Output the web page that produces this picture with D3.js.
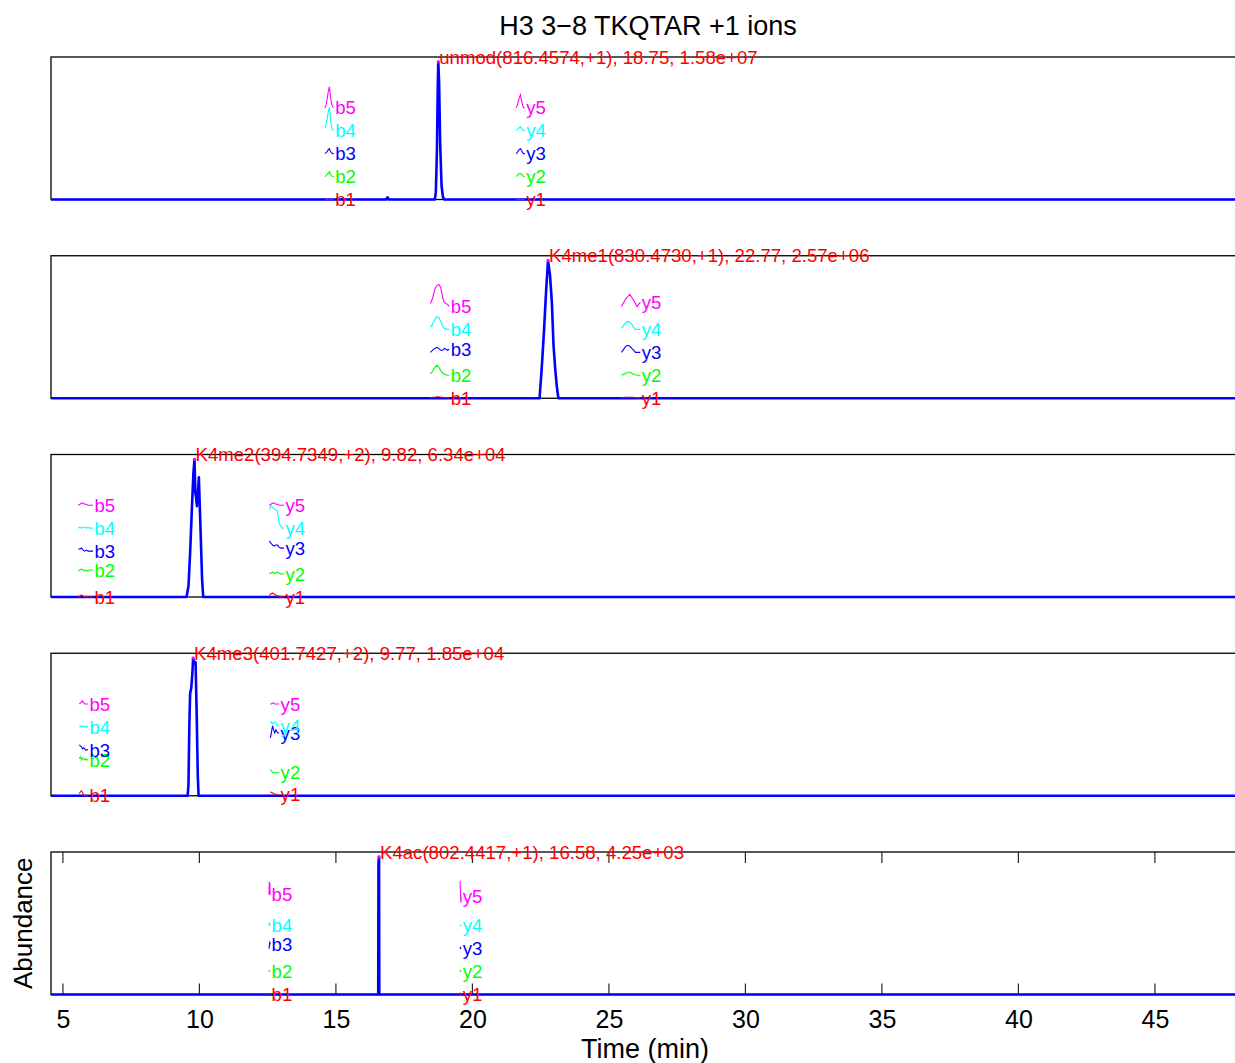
<!DOCTYPE html>
<html>
<head>
<meta charset="utf-8">
<script src="https://cdn.jsdelivr.net/npm/d3@7"></script>
<style>
  html, body { margin: 0; padding: 0; background: #fff; }
  svg { display: block; font-family: "Liberation Sans", Arial, Helvetica, sans-serif; }
</style>
</head>
<body>
<svg id="chart" width="1235" height="1063"></svg>
<script>
// ---- axis limits and ticks (minutes) ----
const timeLimits = [4.564, 48.3];
const timeTicks = [5, 10, 15, 20, 25, 30, 35, 40, 45];

// fragment ion series drawn beside each precursor peak
const ionNames = ["1", "2", "3", "4", "5"];
const ionColors = ["#ff0000", "#00ff00", "#0000ff", "#00ffff", "#ff00ff"];
const ionLevels = [0, 16.667, 33.333, 50, 66.667];   // % of precursor max
const bShift = -4;   // min, b-ion traces sit left of the peak
const yShift = 3;    // min, y-ion traces sit right of the peak

// ---- unmod(816.4574,+1) ----
const unmodRt    = [4.564, 16.84, 16.89, 16.94, 18.62, 18.66, 18.70, 18.73, 18.75, 18.78, 18.82, 18.87, 18.92, 18.96, 48.3];
const unmodAbund = [0, 0, 1.6, 0, 0, 5, 35, 80, 100, 85, 40, 10, 2, 0, 0];
const unmodFragRt = [18.60, 18.64, 18.68, 18.72, 18.76, 18.80, 18.84, 18.88, 18.92];
const unmodB = [
  [0, 0, 0, 0, 0.7, 0, 0, 0, 0],
  [0, 0.7, 1.5, 2.2, 3.6, 1.5, 0.7, 0, 0],
  [0, 0.7, 1.5, 2.9, 3.6, 1.5, 0.7, 0, 0],
  [2.2, 4.4, 8.7, 13.8, 16.7, 9.4, 2.9, 0.7, 0],
  [0, 2.2, 6.5, 11.6, 15.2, 8.7, 2.9, 0.7, 0]
];
const unmodY = [
  [0, 0, 0, 0, 0.4, 0, 0, 0, 0],
  [0, 0.7, 1.5, 2.2, 2.2, 1.5, 0.7, 0, 0],
  [0, 0.7, 2.2, 2.9, 3.6, 2.2, 0.7, 0, 0],
  [0, 0.7, 1.5, 2.2, 2.9, 1.5, 0.7, 0, 0],
  [0, 1.5, 4.4, 7.3, 9.4, 5.1, 1.5, 0, 0]
];

// ---- K4me1(830.4730,+1) ----
const me1Rt    = [4.564, 22.46, 22.54, 22.62, 22.70, 22.77, 22.84, 22.91, 22.97, 23.03, 23.09, 23.15, 48.3];
const me1Abund = [0, 0, 22, 48, 78, 100, 90, 70, 39, 22, 9, 0, 0];
const me1FragRt = [22.46, 22.54, 22.62, 22.70, 22.77, 22.84, 22.91, 22.97, 23.03, 23.09, 23.15];
const me1B = [
  [0.4, 0.7, 0.7, 1.1, 1.1, 0.7, 0.7, 0.4, 0.4, 0.4, 0],
  [1.1, 2.9, 5.8, 7.3, 5.8, 3.6, 1.5, 0.7, 0.4, 0, 0],
  [0, 1.5, 2.9, 3.6, 2.9, 1.5, 1.5, 2.9, 2.2, 1.5, 2.2],
  [1.5, 3.6, 7.3, 9.4, 8.7, 5.8, 2.2, 0.7, 0.4, 0, 0],
  [2.2, 5.8, 12.3, 15.2, 16.0, 13.8, 6.5, 2.9, 2.2, 1.5, 0]
];
const me1Y = [
  [0.4, 0.7, 0.7, 0.7, 0.7, 0.7, 0.7, 0.4, 0.4, 0.4, 0],
  [0, 0.7, 1.5, 2.2, 2.2, 1.5, 0.7, 0.4, 0, 0, 0],
  [0, 2.2, 4.4, 5.1, 4.4, 2.9, 1.5, 0, 0, 0, 0],
  [0.7, 2.9, 5.1, 5.8, 5.1, 3.6, 1.5, 0, 0, 0, 0],
  [0, 2.9, 5.8, 7.3, 8.7, 6.5, 4.4, 2.2, 0, 1.5, 2.9]
];

// ---- K4me2(394.7349,+2) ----
const me2Rt    = [4.564, 9.53, 9.60, 9.66, 9.72, 9.78, 9.82, 9.85, 9.88, 9.91, 9.94, 9.98, 10.04, 10.10, 10.14, 48.3];
const me2Abund = [0, 0, 8, 32, 62, 90, 100, 76, 72, 66, 74, 87, 50, 12, 0, 0];
const me2FragRt = [9.56, 9.62, 9.68, 9.74, 9.80, 9.86, 9.92, 9.98, 10.04, 10.10];
const me2B = [
  [0, 0.7, 1.5, 0.7, 0, 0, 0, 0, 0, 0],
  [2.2, 2.9, 3.6, 2.9, 2.2, 2.9, 2.2, 2.9, 2.9, 2.9],
  [1.5, 1.5, 2.2, 0.7, 0, 0.7, 0, 0, 0, 0],
  [0, 0.7, 0, 0.7, 0.7, 0, 0.7, 0, 0, 0],
  [0, 0.7, 1.5, 1.5, 0.7, 0.7, 0, 0, 0, 0]
];
const me2Y = [
  [1.5, 2.2, 2.9, 2.2, 1.5, 0.7, 0.7, 0, 0, 0],
  [0, 0.7, 1.5, 0.7, 0.7, 1.5, 0.7, 0, 0, 0],
  [7.3, 5.8, 4.4, 3.6, 4.4, 4.4, 2.9, 2.2, 2.2, 2.2],
  [13.8, 16.0, 15.2, 13.8, 13.1, 12.3, 3.6, 1.5, 0, 0],
  [0, 0.7, 1.5, 1.5, 0.7, 0.7, 0, 0, 0, 0]
];

// ---- K4me3(401.7427,+2) ----
const me3Rt    = [4.564, 9.57, 9.60, 9.63, 9.66, 9.70, 9.74, 9.77, 9.81, 9.86, 9.90, 9.94, 9.97, 48.3];
const me3Abund = [0, 0, 8, 50, 74, 78, 88, 100, 96, 97, 60, 15, 0, 0];
const me3FragRt = [9.60, 9.64, 9.68, 9.72, 9.76, 9.80, 9.84, 9.88, 9.92];
const me3B = [
  [1.5, 2.9, 3.6, 2.2, 0.7, 0, 0, 0, 0],
  [10.2, 11.6, 9.4, 10.9, 10.2, 9.4, 10.2, 9.4, 9.4],
  [3.6, 2.9, 2.2, 0.7, 1.5, 0.7, 0, 0, 0],
  [0, 0.7, 0, 0.7, 0, 0.7, 0, 0, 0],
  [0, 0.7, 1.5, 2.2, 0.7, 0, 0, 0, 0]
];
const me3Y = [
  [2.9, 2.2, 2.2, 1.5, 1.5, 0.7, 0.7, 0.7, 0.7],
  [2.2, 1.5, 0, 0, 0, 0, 0, 0, 0],
  [8.7, 13.1, 17.4, 14.5, 12.3, 14.5, 13.1, 12.3, 12.3],
  [2.9, 3.6, 2.2, 2.9, 3.6, 2.9, 1.5, 0.7, 0.7],
  [0, 0, 0.7, 0.7, 0, 0, 0, 0, 0]
];

// ---- K4ac(802.4417,+1) ----
const acRt    = [4.564, 16.55, 16.56, 16.58, 16.59, 48.3];
const acAbund = [0, 0, 96, 100, 0, 0];
const acFragRt = [16.55, 16.56, 16.58, 16.59];
const acB = [
  [0, 0.7, 0.7, 0],
  [0, 0.7, 0, 0],
  [0, 2.2, 5.1, 2.9],
  [0, 2.2, 0.7, 0],
  [5.8, 14.5, 13.8, 5.8]
];
const acY = [
  [0, 0.7, 0, 0],
  [0, 0.7, 0, 0],
  [0, 0.7, 0, 0],
  [0, 0.4, 0, 0],
  [15.9, 8.7, 0, 4.4]
];

// precursor summary per panel
const peptideForms = ["unmod", "K4me1", "K4me2", "K4me3", "K4ac"];
const precursorMz  = ["816.4574", "830.4730", "394.7349", "401.7427", "802.4417"];
const chargeStates = ["+1", "+1", "+2", "+2", "+1"];
const apexRt       = [18.75, 22.77, 9.82, 9.77, 16.58];
const apexAbund    = [1.58e7, 2.57e6, 6.34e4, 1.85e4, 4.25e3];

const mainRt    = [unmodRt, me1Rt, me2Rt, me3Rt, acRt];
const mainAbund = [unmodAbund, me1Abund, me2Abund, me3Abund, acAbund];
const fragRt    = [unmodFragRt, me1FragRt, me2FragRt, me3FragRt, acFragRt];
const fragB     = [unmodB, me1B, me2B, me3B, acB];
const fragY     = [unmodY, me1Y, me2Y, me3Y, acY];

// ---- layout ----
const svg = d3.select("#chart");
const left = 51, axisWidth = 1194;
const firstTop = 57, panelStep = 198.75, panelH = 142.5;
const headroom = 1.035;
const labelSize = 18.6;

const x = d3.scaleLinear().domain(timeLimits).range([left, left + axisWidth]);

function sciLabel(v) {
  const [m, e] = v.toExponential(2).split("e");
  const sign = e[0] === "-" ? "-" : "+";
  const digits = e.replace(/[+-]/, "").padStart(2, "0");
  return `${m}e${sign}${digits}`;
}

svg.append("text")
  .attr("x", left + axisWidth / 2).attr("y", 35)
  .attr("text-anchor", "middle")
  .attr("font-size", 27).attr("fill", "#000")
  .text("H3 3\u22128 TKQTAR +1 ions");

peptideForms.forEach((form, i) => {
  const top = firstTop + i * panelStep;
  const bottom = top + panelH;
  const max = apexAbund[i];
  const y = d3.scaleLinear().domain([0, max * headroom]).range([bottom, top]);
  const g = svg.append("g");
  const pct = v => v / 100 * max;

  // box
  g.append("rect")
    .attr("x", left).attr("y", top)
    .attr("width", axisWidth).attr("height", panelH)
    .attr("fill", "none").attr("stroke", "#000").attr("stroke-width", 1.3);

  const isLast = i === peptideForms.length - 1;
  if (isLast) {
    const tickLen = 11;
    timeTicks.forEach(t => {
      g.append("line").attr("x1", x(t)).attr("x2", x(t))
        .attr("y1", bottom).attr("y2", bottom - tickLen)
        .attr("stroke", "#262626").attr("stroke-width", 1.2);
      g.append("line").attr("x1", x(t)).attr("x2", x(t))
        .attr("y1", top).attr("y2", top + tickLen)
        .attr("stroke", "#262626").attr("stroke-width", 1.2);
    });
    const axis = d3.axisBottom(x).tickValues(timeTicks).tickSize(0).tickPadding(16)
      .tickFormat(d3.format("d"));
    const ag = g.append("g").attr("transform", `translate(0,${bottom})`).call(axis);
    ag.select(".domain").remove();
    ag.selectAll("text").attr("font-size", 25).attr("fill", "#000")
      .attr("font-family", "Liberation Sans, Arial, sans-serif");
  }

  // precursor XIC
  const line = d3.line().x(d => x(d[0])).y(d => y(pct(d[1])));
  const pts = mainRt[i].map((t, k) => [t, mainAbund[i][k]]);
  g.append("path").datum(pts).attr("d", line)
    .attr("fill", "none").attr("stroke", "#0000ff")
    .attr("stroke-width", 2.6).attr("stroke-linejoin", "round");

  // fragment ion traces, stacked by ion number
  const drawSeries = (series, shift, prefix) => {
    series.forEach((vals, k) => {
      const p = vals.map((v, j) => [fragRt[i][j] + shift, v + ionLevels[k]]);
      g.append("path").datum(p).attr("d", line)
        .attr("fill", "none").attr("stroke", ionColors[k]).attr("stroke-width", 1.1);
      const last = p[p.length - 1];
      g.append("text")
        .attr("x", x(last[0]) + 1.5).attr("y", y(pct(last[1])))
        .attr("dy", "0.36em")
        .attr("font-size", labelSize).attr("fill", ionColors[k])
        .text(prefix + ionNames[k]);
    });
  };
  drawSeries(fragB[i], bShift, "b");
  drawSeries(fragY[i], yShift, "y");

  // apex marker and summary label
  g.append("circle")
    .attr("cx", x(apexRt[i])).attr("cy", y(max)).attr("r", 1.6)
    .attr("fill", "#ff00ff");
  g.append("text")
    .attr("x", x(apexRt[i]) + 1).attr("y", y(max * headroom))
    .attr("dy", "0.36em")
    .attr("font-size", labelSize).attr("fill", "#ff0000")
    .text(`${form}(${precursorMz[i]},${chargeStates[i]}), ${apexRt[i].toFixed(2)}, ${sciLabel(max)}`);
});

// axis titles
svg.append("text")
  .attr("x", left + axisWidth / 2 - 3).attr("y", 1058)
  .attr("text-anchor", "middle").attr("font-size", 27).attr("fill", "#000")
  .text("Time (min)");

const lastTop = firstTop + 4 * panelStep;
svg.append("text")
  .attr("transform", `translate(32,${lastTop + panelH / 2}) rotate(-90)`)
  .attr("text-anchor", "middle").attr("font-size", 26).attr("fill", "#000")
  .text("Abundance");
</script>
</body>
</html>
